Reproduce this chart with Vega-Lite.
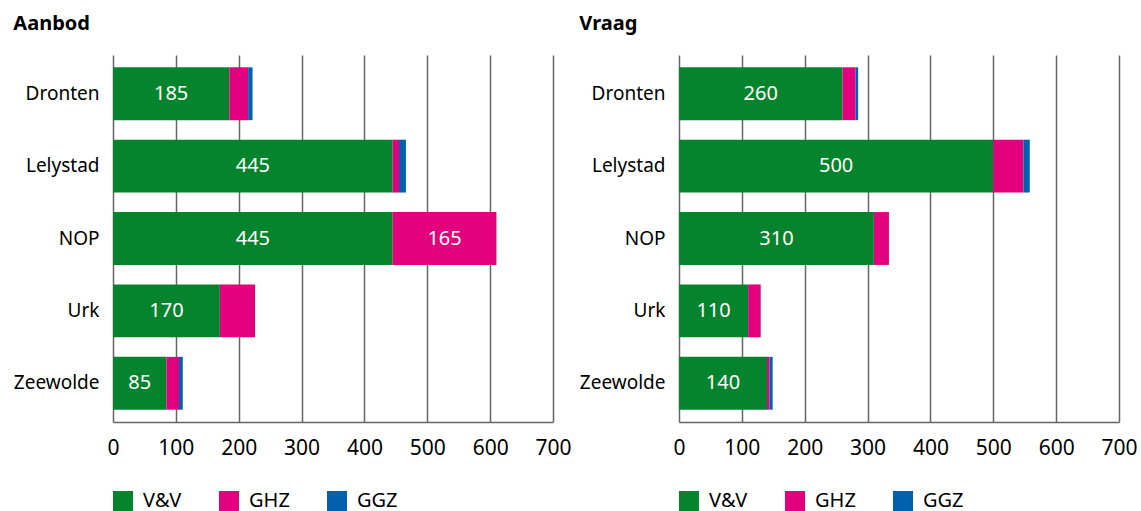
{
  "$schema": "https://vega.github.io/schema/vega-lite/v6.json",
  "padding": {"left": 13, "top": 14, "right": 0, "bottom": 0},
  "bounds": "flush",
  "config": {
    "font": "Noto Sans",
    "view": {"stroke": null},
    "concat": {"spacing": 126},
    "title": {"fontSize": 20, "fontWeight": "bold", "anchor": "start", "color": "#000000", "offset": 21},
    "axisY": {"labelFontSize": 19, "labelColor": "#000000", "labelPadding": 14, "ticks": false, "domain": false, "grid": false, "title": null},
    "axisX": {"labelFontSize": 21, "labelColor": "#000000", "labelPadding": 15, "labelFlush": false, "labelOverlap": false, "ticks": false, "domainColor": "#666666", "domainWidth": 1.5, "grid": true, "gridColor": "#666666", "gridWidth": 1.5, "gridOpacity": 1, "title": null},
    "legend": {"orient": "bottom", "direction": "horizontal", "symbolType": "square", "symbolSize": 400, "symbolStrokeWidth": 0, "symbolOpacity": 1, "labelFontSize": 20, "labelColor": "#000000", "labelOffset": 10, "labelLimit": 300, "columnPadding": 37, "clipHeight": 30, "title": null, "offset": 28}
  },
  "datasets": {
    "aanbod": [
      {"gemeente": "Dronten", "type": "V&V", "waarde": 185, "volgorde": 1, "label": true},
      {"gemeente": "Dronten", "type": "GHZ", "waarde": 30, "volgorde": 2, "label": false},
      {"gemeente": "Dronten", "type": "GGZ", "waarde": 7, "volgorde": 3, "label": false},
      {"gemeente": "Lelystad", "type": "V&V", "waarde": 445, "volgorde": 1, "label": true},
      {"gemeente": "Lelystad", "type": "GHZ", "waarde": 10, "volgorde": 2, "label": false},
      {"gemeente": "Lelystad", "type": "GGZ", "waarde": 11, "volgorde": 3, "label": false},
      {"gemeente": "NOP", "type": "V&V", "waarde": 445, "volgorde": 1, "label": true},
      {"gemeente": "NOP", "type": "GHZ", "waarde": 165, "volgorde": 2, "label": true},
      {"gemeente": "Urk", "type": "V&V", "waarde": 170, "volgorde": 1, "label": true},
      {"gemeente": "Urk", "type": "GHZ", "waarde": 56, "volgorde": 2, "label": false},
      {"gemeente": "Zeewolde", "type": "V&V", "waarde": 85, "volgorde": 1, "label": true},
      {"gemeente": "Zeewolde", "type": "GHZ", "waarde": 20, "volgorde": 2, "label": false},
      {"gemeente": "Zeewolde", "type": "GGZ", "waarde": 6, "volgorde": 3, "label": false}
    ],
    "vraag": [
      {"gemeente": "Dronten", "type": "V&V", "waarde": 260, "volgorde": 1, "label": true},
      {"gemeente": "Dronten", "type": "GHZ", "waarde": 21, "volgorde": 2, "label": false},
      {"gemeente": "Dronten", "type": "GGZ", "waarde": 4, "volgorde": 3, "label": false},
      {"gemeente": "Lelystad", "type": "V&V", "waarde": 500, "volgorde": 1, "label": true},
      {"gemeente": "Lelystad", "type": "GHZ", "waarde": 48, "volgorde": 2, "label": false},
      {"gemeente": "Lelystad", "type": "GGZ", "waarde": 10, "volgorde": 3, "label": false},
      {"gemeente": "NOP", "type": "V&V", "waarde": 310, "volgorde": 1, "label": true},
      {"gemeente": "NOP", "type": "GHZ", "waarde": 24, "volgorde": 2, "label": false},
      {"gemeente": "Urk", "type": "V&V", "waarde": 110, "volgorde": 1, "label": true},
      {"gemeente": "Urk", "type": "GHZ", "waarde": 20, "volgorde": 2, "label": false},
      {"gemeente": "Zeewolde", "type": "V&V", "waarde": 140, "volgorde": 1, "label": true},
      {"gemeente": "Zeewolde", "type": "GHZ", "waarde": 4, "volgorde": 2, "label": false},
      {"gemeente": "Zeewolde", "type": "GGZ", "waarde": 5, "volgorde": 3, "label": false}
    ]
  },
  "resolve": {"legend": {"color": "independent"}},
  "hconcat": [
    {
      "title": "Aanbod",
      "width": 440,
      "height": 367,
      "data": {"name": "aanbod"},
      "transform": [
        {"stack": "waarde", "groupby": ["gemeente"], "sort": [{"field": "volgorde"}], "as": ["x0", "x1"]},
        {"calculate": "(datum.x0 + datum.x1) / 2", "as": "xm"}
      ],
      "layer": [
        {
          "mark": {"type": "bar"},
          "encoding": {
            "y": {"field": "gemeente", "type": "nominal", "sort": ["Dronten", "Lelystad", "NOP", "Urk", "Zeewolde"], "scale": {"paddingInner": 0.27, "paddingOuter": 0.17}},
            "x": {"field": "x0", "type": "quantitative", "scale": {"domain": [0, 700]}, "axis": {"values": [0, 100, 200, 300, 400, 500, 600, 700]}},
            "x2": {"field": "x1"},
            "color": {"field": "type", "type": "nominal", "scale": {"domain": ["V&V", "GHZ", "GGZ"], "range": ["#05842D", "#E3007F", "#0062AE"]}}
          }
        },
        {
          "transform": [{"filter": "datum.label"}],
          "mark": {"type": "text", "color": "#ffffff", "fontSize": 20, "align": "center", "baseline": "middle"},
          "encoding": {
            "y": {"field": "gemeente", "type": "nominal", "sort": ["Dronten", "Lelystad", "NOP", "Urk", "Zeewolde"]},
            "x": {"field": "xm", "type": "quantitative"},
            "text": {"field": "waarde", "type": "quantitative"}
          }
        }
      ]
    },
    {
      "title": "Vraag",
      "width": 440,
      "height": 367,
      "data": {"name": "vraag"},
      "transform": [
        {"stack": "waarde", "groupby": ["gemeente"], "sort": [{"field": "volgorde"}], "as": ["x0", "x1"]},
        {"calculate": "(datum.x0 + datum.x1) / 2", "as": "xm"}
      ],
      "layer": [
        {
          "mark": {"type": "bar"},
          "encoding": {
            "y": {"field": "gemeente", "type": "nominal", "sort": ["Dronten", "Lelystad", "NOP", "Urk", "Zeewolde"], "scale": {"paddingInner": 0.27, "paddingOuter": 0.17}},
            "x": {"field": "x0", "type": "quantitative", "scale": {"domain": [0, 700]}, "axis": {"values": [0, 100, 200, 300, 400, 500, 600, 700]}},
            "x2": {"field": "x1"},
            "color": {"field": "type", "type": "nominal", "scale": {"domain": ["V&V", "GHZ", "GGZ"], "range": ["#05842D", "#E3007F", "#0062AE"]}}
          }
        },
        {
          "transform": [{"filter": "datum.label"}],
          "mark": {"type": "text", "color": "#ffffff", "fontSize": 20, "align": "center", "baseline": "middle"},
          "encoding": {
            "y": {"field": "gemeente", "type": "nominal", "sort": ["Dronten", "Lelystad", "NOP", "Urk", "Zeewolde"]},
            "x": {"field": "xm", "type": "quantitative"},
            "text": {"field": "waarde", "type": "quantitative"}
          }
        }
      ]
    }
  ]
}
